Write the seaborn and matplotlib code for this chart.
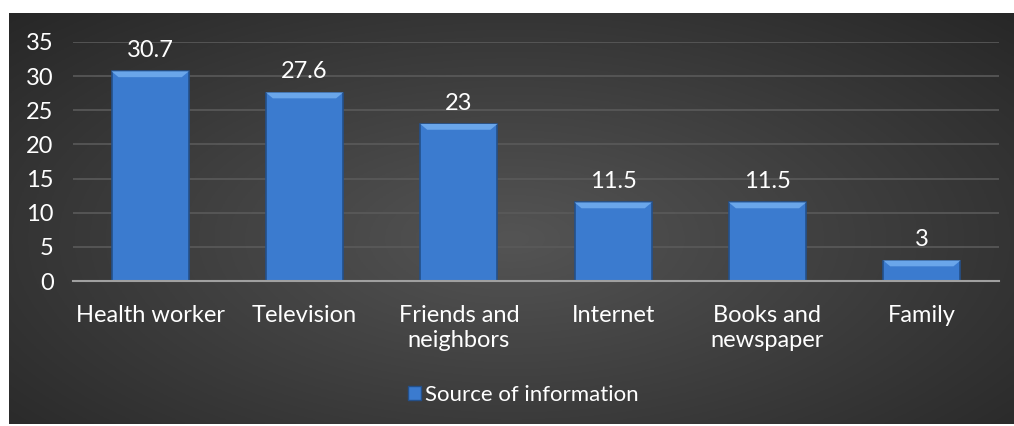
import numpy as np
import pandas as pd
import matplotlib.pyplot as plt
import seaborn as sns
from matplotlib.patches import Polygon

categories = ['Health worker', 'Television', 'Friends and\nneighbors', 'Internet', 'Books and\nnewspaper', 'Family']
values = [30.7, 27.6, 23, 11.5, 11.5, 3]
value_labels = ['30.7', '27.6', '23', '11.5', '11.5', '3']
series_name = 'Source of information'

df = pd.DataFrame({'source': categories, 'pct': values})

sns.set_style('white')
plt.rcParams['font.family'] = ['Lato', 'DejaVu Sans']

fig = plt.figure(figsize=(10.14, 4.26), dpi=100)
fig.patch.set_facecolor('white')

# dark radial background panel
bg = fig.add_axes([9/1014, 2/426, 1005/1014, 411/426])
yy, xx = np.mgrid[0:1:200j, 0:1:400j]
r = np.sqrt(((xx - 0.5) / 0.75) ** 2 + ((yy - 0.55) / 0.85) ** 2)
shade = np.clip(0.33 - 0.19 * r, 0.15, 0.33)
bg.imshow(np.dstack([shade, shade, shade]), aspect='auto', extent=[0, 1, 0, 1])
bg.axis('off')

ax = fig.add_axes([73/1014, 145/426, 926/1014, 239/426])
ax.patch.set_alpha(0)
sns.barplot(data=df, x='source', y='pct', color='#3B7BCF', width=0.5,
            edgecolor='#24508a', linewidth=1.2, saturation=1, ax=ax, zorder=3)

ax.set_ylim(0, 35)
ax.set_yticks(range(0, 36, 5))
ax.grid(axis='y', color='#5a5a5a', linewidth=1.2, zorder=0)
ax.set_axisbelow(True)
for s in ['top', 'right', 'left']:
    ax.spines[s].set_visible(False)
ax.spines['bottom'].set_color('#a0a0a0')
ax.spines['bottom'].set_linewidth(1.5)
ax.spines['bottom'].set_zorder(4)
ax.tick_params(axis='both', length=0, colors='white', labelsize=17)
ax.tick_params(axis='y', pad=14)
ax.tick_params(axis='x', pad=17)
for t in ax.get_xticklabels():
    t.set_linespacing(1.25)
ax.set_xlabel('')
ax.set_ylabel('')

# bevel highlight on top of each bar
bev_h = 0.85
bev_w = 0.045
for p in ax.patches:
    x0, w, h = p.get_x(), p.get_width(), p.get_height()
    ax.add_patch(Polygon([(x0, h), (x0 + w, h), (x0 + w - bev_w, h - bev_h), (x0 + bev_w, h - bev_h)],
                         closed=True, facecolor='#6aa6ea', edgecolor='none', zorder=4))

for p, lab in zip(ax.patches, value_labels):
    ax.annotate(lab, (p.get_x() + p.get_width() / 2, p.get_height()),
                xytext=(0, 15), textcoords='offset points',
                ha='center', va='center', color='white', fontsize=17)

handle = plt.Rectangle((0, 0), 1, 1, facecolor='#3B7BCF', edgecolor='#24508a')
leg = fig.legend([handle], [series_name], loc='center', bbox_to_anchor=(0.516, 31/426),
                 frameon=False, fontsize=16, handlelength=0.6, handleheight=0.6,
                 handletextpad=0.2, labelcolor='white')

fig.savefig('out.png', dpi=100, facecolor='white')
